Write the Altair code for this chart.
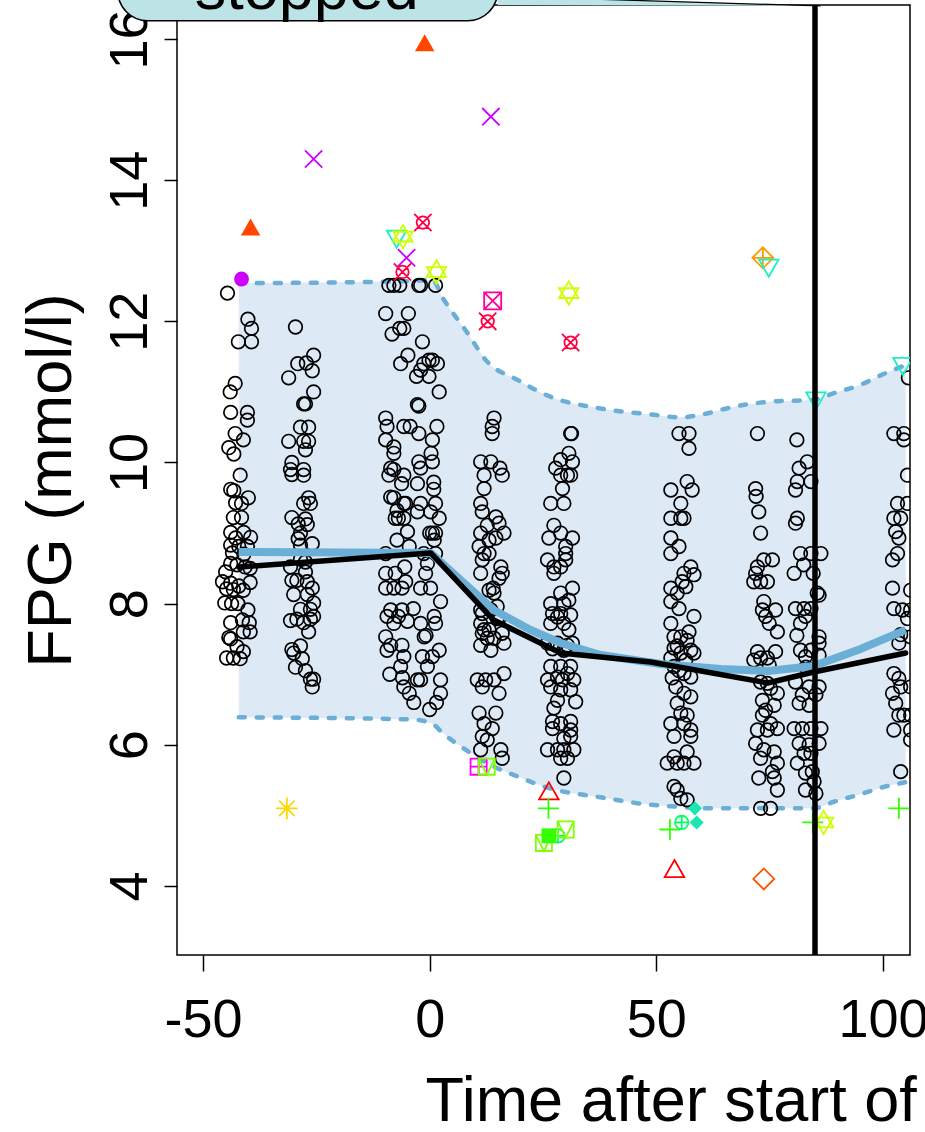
import altair as alt
import pandas as pd

FONT = "Liberation Sans"

# ---------------- data ----------------
# black open circles, one list per visit column: (time, FPG)
col1 = [(-44.6,12.40),(-40.1,12.03),(-39.3,11.90),(-42.2,11.71),(-39.3,11.71),(-42.9,11.12),(-44.0,11.00),
        (-43.9,10.71),(-40.2,10.71),(-40.2,10.60),(-42.9,10.41),(-41.1,10.32),(-44.3,10.21),(-43.2,10.12),
        (-41.8,9.82),(-43.9,9.62),(-43.2,9.60),(-40.0,9.50),(-42.8,9.43),(-41.5,9.42),(-43.3,9.22),(-41.5,9.22),
        (-43.9,9.01),(-41.0,9.01),(-39.5,8.94),(-42.8,8.93),(-43.9,8.83),(-42.1,8.81),(-40.2,8.81),(-43.5,8.72),
        (-41.0,8.70),(-43.9,8.57),(-42.5,8.55),(-40.7,8.52),(-39.6,8.50),(-45.0,8.45),(-45.7,8.31),(-43.9,8.29),
        (-42.1,8.25),(-39.6,8.30),(-44.8,8.21),(-43.3,8.20),(-41.1,8.19),(-45.2,8.01),(-43.7,8.00),(-42.3,8.00),
        (-40.1,7.91),(-41.3,7.77),(-39.8,7.73),(-43.9,7.73),(-41.1,7.60),(-39.6,7.60),(-44.3,7.52),(-43.9,7.50),
        (-42.5,7.39),(-41.1,7.32),(-44.8,7.23),(-43.3,7.23),(-41.8,7.22)]
col2 = [(-29.6,11.92),(-29.1,11.40),(-27.2,11.41),(-25.6,11.52),(-25.9,11.30),(-31.1,11.20),(-25.6,11.00),
        (-27.8,10.83),(-27.4,10.83),(-28.5,10.50),(-26.7,10.50),(-31.1,10.30),(-27.8,10.30),(-26.7,10.30),
        (-27.4,10.18),(-30.4,10.00),(-30.7,9.90),(-30.4,9.83),(-27.8,9.90),(-27.8,9.82),(-26.7,9.50),(-27.8,9.42),
        (-26.3,9.42),(-30.4,9.22),(-29.0,9.13),(-27.4,9.20),(-27.0,9.12),(-28.5,9.00),(-29.0,8.92),(-25.9,8.85),
        (-28.5,8.83),(-28.5,8.63),(-27.4,8.59),(-30.7,8.52),(-27.4,8.45),(-29.3,8.33),(-30.4,8.33),(-27.0,8.31),
        (-25.9,8.22),(-30.0,8.13),(-27.0,8.13),(-25.6,8.01),(-28.5,7.92),(-26.3,7.92),(-30.7,7.76),(-29.3,7.78),
        (-27.8,7.73),(-26.3,7.78),(-25.6,7.82),(-26.7,7.60),(-30.4,7.35),(-30.0,7.30),(-28.5,7.40),(-28.1,7.22),
        (-29.6,7.10),(-27.4,7.05),(-26.3,6.93),(-25.6,6.93),(-25.9,6.82)]
col3 = [(-9.0,12.51),(-7.9,12.51),(-6.6,12.51),(-2.4,12.51),(-2.0,12.51),(1.3,12.51),(-9.7,12.11),(-4.7,12.11),
        (-8.3,11.82),(-6.6,11.90),(-5.7,11.90),(-1.6,11.71),(-6.4,11.40),(-4.8,11.52),(-1.3,11.40),(-0.15,11.45),
        (0.6,11.45),(1.7,11.40),(-2.9,11.22),(-0.15,11.22),(-2.0,11.31),(2.1,11.00),(-2.7,10.82),(-2.4,10.80),
        (-9.7,10.63),(-9.4,10.51),(-5.7,10.51),(-4.3,10.51),(1.6,10.51),(-2.4,10.41),(0.6,10.32),(-9.7,10.32),
        (-7.9,10.22),(-7.9,10.13),(0.3,10.13),(-2.4,10.01),(0.6,10.01),(-2.0,9.92),(-8.6,9.92),(-7.9,9.90),
        (-9.0,9.82),(-5.7,9.82),(-2.7,9.70),(0.9,9.72),(0.9,9.62),(-6.2,9.70),(-8.6,9.51),(-7.9,9.50),(-5.7,9.42),
        (-5.3,9.42),(-2.0,9.42),(1.3,9.42),(0.2,9.30),(-2.7,9.30),(-7.2,9.32),(-6.9,9.21),(2.1,9.21),(-7.6,9.21),
        (-5.7,9.21),(1.3,9.00),(0.6,9.00),(0.0,9.00),(-4.9,9.02),(-7.2,8.90),(1.0,8.90),(-4.5,8.81),(-1.3,8.71),
        (1.3,8.71),(-9.7,8.71),(-0.5,8.57),(-5.5,8.52),(-9.7,8.43),(-7.6,8.43),(-0.9,8.43),(-7.9,8.22),(-6.1,8.22),
        (-9.7,8.22),(-2.0,8.22),(0.2,8.22),(-5.3,8.31),(-8.6,7.91),(-6.1,7.91),(-3.6,7.93),(2.4,8.03),(1.0,7.82),
        (-9.4,7.82),(-6.9,7.82),(-7.9,7.72),(-2.0,7.72),(1.3,7.72),(-4.9,7.75),(-9.7,7.53),(-1.2,7.53),(-0.8,7.55),
        (-8.6,7.41),(-6.1,7.41),(2.1,7.34),(0.6,7.25),(-9.4,7.34),(-5.7,7.25),(-6.4,7.11),(-1.6,7.25),(-0.5,7.11),
        (-2.0,6.92),(-2.7,6.92),(2.4,6.92),(-5.7,6.82),(-4.5,6.73),(2.4,6.73),(0.0,6.50),(-3.5,6.60),(1.5,6.60),
        (-6.0,6.95),(-8.8,7.00)]
col4 = [(14.2,10.63),(13.8,10.51),(13.8,10.41),(11.25,10.01),(13.5,10.01),(15.5,9.92),(16.0,9.82),(12.0,9.82),
        (12.0,9.63),(11.25,9.42),(11.6,9.30),(14.6,9.23),(15.3,9.14),(12.7,9.11),(11.25,9.00),(16.4,9.00),
        (14.6,8.93),(13.1,8.90),(10.9,8.81),(12.0,8.71),(13.1,8.71),(11.6,8.62),(15.7,8.52),(16.0,8.43),(15.3,8.36),
        (11.25,8.43),(14.0,8.22),(14.2,8.15),(13.1,8.19),(14.9,7.96),(11.25,7.91),(13.5,7.91),(11.25,7.72),
        (11.6,7.58),(12.7,7.51),(14.2,7.51),(16.0,7.58),(16.4,7.44),(11.25,7.41),(13.5,7.34),(10.5,6.92),
        (12.35,6.92),(14.2,6.92),(16.4,7.01),(15.3,6.73),(11.6,6.82),(10.9,6.45),(14.6,6.45),(12.0,6.30),
        (13.8,6.23),(11.6,6.12),(12.7,6.07),(11.25,5.93),(15.7,5.93),(16.0,5.81),(12.0,7.63),(13.1,7.63),
        (14.9,7.79),(11.6,7.86),(15.3,7.79)]
col5 = [(31.1,10.41),(31.3,10.41),(30.7,10.13),(28.9,10.04),(31.5,10.01),(27.8,9.92),(28.9,9.82),(30.4,9.82),
        (31.1,9.82),(29.3,9.63),(26.7,9.42),(29.6,9.42),(27.4,9.11),(28.9,9.00),(26.3,8.93),(31.5,8.93),(30.0,8.81),
        (30.0,8.71),(26.0,8.62),(27.4,8.52),(28.9,8.52),(30.0,8.62),(27.4,8.43),(31.5,8.22),(30.7,8.05),(28.9,8.15),
        (29.6,8.00),(26.7,8.00),(27.1,7.86),(28.9,7.86),(28.2,7.81),(26.7,7.72),(29.6,7.72),(31.1,7.84),(30.7,7.63),
        (26.0,7.44),(28.2,7.44),(27.1,7.36),(29.6,7.34),(30.4,7.41),(31.5,7.44),(26.7,7.11),(28.9,7.11),(31.1,7.11),
        (30.4,7.01),(28.2,6.96),(26.0,6.92),(29.3,6.92),(31.8,6.92),(26.7,6.82),(28.9,6.78),(31.1,6.78),(32.2,6.61),
        (28.2,6.63),(27.4,6.52),(27.1,6.33),(28.9,6.30),(31.1,6.33),(27.1,6.23),(31.1,6.21),(31.1,6.12),(29.6,6.09),
        (26.0,5.93),(28.2,5.93),(29.6,5.93),(31.8,5.93),(28.9,5.81),(30.4,5.81),(29.6,5.53)]
col6 = [(55.0,10.41),(57.2,10.41),(57.2,10.20),(53.2,9.61),(56.8,9.73),(57.9,9.61),(55.4,9.42),(53.2,9.21),
        (55.4,9.21),(56.1,9.21),(53.2,8.93),(55.0,8.81),(53.2,8.71),(57.6,8.52),(56.1,8.43),(58.3,8.41),(55.7,8.31),
        (56.5,8.24),(53.2,8.22),(54.6,8.15),(53.2,8.03),(55.0,7.93),(58.3,7.82),(53.2,7.72),(53.9,7.53),(55.4,7.53),
        (56.8,7.48),(53.9,7.37),(57.6,7.34),(55.4,7.30),(53.2,7.23),(58.3,7.30),(53.9,7.11),(56.1,7.01),(57.6,6.96),
        (54.3,6.82),(56.1,6.73),(57.6,6.68),(54.6,6.59),(55.4,6.45),(56.8,6.42),(56.1,6.30),(53.2,6.30),(57.6,6.21),
        (53.9,6.12),(57.6,6.12),(56.8,5.90),(53.9,5.83),(52.4,5.74),(54.6,5.74),(56.1,5.74),(58.3,5.74),(53.9,5.41),
        (54.6,5.36),(55.4,5.24),(56.8,5.22),(54.6,7.40),(56.5,7.20),(55.0,7.05),(57.2,7.60),(53.5,6.95)]
col7 = [(72.3,10.41),(71.9,9.63),(72.0,9.52),(72.6,9.30),(73.0,9.00),(73.7,8.62),(75.6,8.62),(72.3,8.52),
        (71.9,8.43),(71.5,8.31),(73.0,8.31),(74.5,8.31),(73.7,8.03),(73.4,7.91),(74.1,7.82),(76.3,7.91),(74.9,7.72),
        (76.7,7.60),(72.3,7.32),(73.0,7.23),(74.5,7.23),(76.3,7.32),(74.9,7.13),(71.5,7.20),(73.0,6.89),(74.5,6.87),
        (75.2,6.80),(76.7,6.73),(73.4,6.63),(74.1,6.49),(76.0,6.56),(73.4,6.42),(75.2,6.30),(76.7,6.23),(72.3,6.21),
        (74.5,6.21),(71.9,6.02),(73.7,5.93),(76.0,5.90),(73.0,5.81),(76.7,5.74),(75.6,5.62),(76.0,5.53),(72.6,5.53),
        (76.7,5.36),(73.0,5.10),(75.2,5.10)]
col8 = [(81.0,10.32),(83.3,10.01),(81.5,9.92),(81.1,9.73),(84.1,9.73),(80.7,9.61),(81.1,9.21),(80.7,9.14),
        (81.8,8.71),(84.1,8.71),(86.3,8.71),(84.6,8.43),(85.5,8.15),(85.9,8.12),(80.7,7.93),(82.6,7.93),(84.1,7.93),
        (82.9,7.82),(81.8,7.72),(85.9,7.53),(85.9,7.44),(81.8,7.34),(84.1,7.34),(82.9,7.25),(85.9,7.27),(80.7,6.89),
        (83.7,6.82),(82.2,6.71),(85.2,6.71),(85.9,6.82),(81.5,6.59),(83.7,6.56),(80.4,6.23),(82.2,6.23),(84.1,6.23),
        (86.3,6.23),(81.5,6.02),(83.7,6.00),(85.9,6.02),(82.6,5.88),(84.1,5.88),(81.1,5.74),(84.4,5.62),(82.9,5.60),
        (84.8,5.48),(82.9,5.36),(85.2,5.31),(80.4,8.43),(82.5,8.55),(81.0,7.55),(83.0,7.10)]
col9 = [(105.6,11.20),(102.4,10.41),(104.6,10.41),(104.6,10.32),(105.4,9.82),(103.2,9.42),(105.4,9.42),
        (102.4,9.21),(103.9,9.21),(102.8,9.02),(103.5,8.93),(103.2,8.71),(102.1,8.62),(102.1,8.22),(106.1,8.19),
        (102.4,7.93),(104.3,7.91),(106.1,7.91),(105.4,7.79),(103.9,7.56),(106.1,7.53),(103.5,7.44),(102.4,7.01),
        (103.5,6.94),(103.9,6.82),(106.1,6.82),(102.1,6.73),(102.8,6.59),(103.5,6.42),(104.6,6.42),(106.1,6.42),
        (102.4,6.21),(106.1,6.21),(106.1,6.07),(103.9,5.62)]

# coloured subjects outside the band
sym_t = [-1.1, -39.5, -41.5, -25.6, 13.5, -5.1, -1.5, -6.0, 12.8, 31.1, 13.9, -7.3, -5.9, 1.5, 30.7,
         73.5, 74.8, 85.2, 104.4, -31.5, 10.8, 12.6, 26.3, 26.2, 25.2, 26.3, 28.3, 30.0, 53.0, 55.6,
         58.5, 58.9, 54.0, 73.7, 84.5, 86.9, 103.5]
sym_y = [15.93, 13.32, 12.60, 14.30, 14.90, 12.90, 13.40, 12.70, 12.00, 11.70, 12.29, 13.18, 13.20, 12.70, 12.40,
         12.90, 12.77, 10.89, 11.38, 5.10, 5.69, 5.69, 5.33, 5.10, 4.61, 4.71, 4.71, 4.80, 4.80, 4.90,
         5.10, 4.90, 4.23, 4.10, 4.90, 4.90, 5.10]
sym_pch = [17, 17, 16, 4, 4, 4, 13, 13, 13, 13, 7, 6, 11, 11, 11,
           9, 6, 6, 6, 8, 12, 14, 2, 3, 14, 15, 10, 14, 3, 10,
           18, 18, 2, 5, 3, 11, 3]
sym_col = ["#FF4500", "#FF4500", "#CC00FF", "#CC00FF", "#CC00FF", "#CC00FF", "#FF0044", "#FF0044", "#FF0044",
           "#FF0044", "#FF0099", "#1AF0C4", "#CCFF00", "#CCFF00", "#CCFF00", "#FF9900", "#1AF0C4", "#1AF0C4",
           "#1AF0C4", "#FFD700", "#FF00FF", "#80FF00", "#FF0000", "#33FF00", "#80FF00", "#33FF00", "#00FF66",
           "#80FF00", "#33FF00", "#00FF66", "#19E6B0", "#19E6B0", "#FF0000", "#FF5500", "#33FF00", "#CCFF00",
           "#33FF00"]

# reference band (dashed limits)
band_t = [-42.1, -4.0, 0.5, 3.0, 8.4, 12.4, 19.4, 26.7, 37.3, 48.8, 55.4, 60.0, 67.1, 74.6, 84.7, 89.0, 95.0, 100.0, 105.0]
band_lo = [6.39, 6.36, 6.30, 6.16, 5.91, 5.75, 5.55, 5.38, 5.26, 5.15, 5.12, 5.10, 5.10, 5.10, 5.10, 5.19, 5.30, 5.40, 5.47]
band_hi = [12.54, 12.57, 12.59, 12.32, 11.83, 11.45, 11.17, 10.93, 10.77, 10.68, 10.64, 10.68, 10.79, 10.86, 10.89, 10.98, 11.10, 11.25, 11.38]

# smooth (blue) and observed mean (black) curves
blue_t = [-42.13, 0.22, 14.12, 22.28, 28.90, 37.72, 50.96, 64.19, 74.56, 84.71, 95.07, 105.0]
blue_y = [8.732, 8.718, 7.910, 7.627, 7.443, 7.273, 7.146, 7.075, 7.047, 7.118, 7.359, 7.628]
mean_t = [-42.13, 0.22, 14.12, 28.90, 48.75, 74.56, 84.71, 105.0]
mean_y = [8.519, 8.718, 7.768, 7.301, 7.174, 6.876, 7.032, 7.301]

stop_t = [85.0]

# callout annotation
bubble = {"x": [-68.8], "x2": [15.0], "y": [17.7], "y2": [16.259], "label": ["stopped"], "lx": [-27.1], "ly": [16.425]}
pointer = {"x": [15.0, 86.25], "top": [16.606, 16.468], "bot": [16.482, 16.468]}

# ---------------- styles ----------------
X_MIN, X_MAX = -55.735, 105.956
Y_MIN, Y_MAX = 3.022, 16.482
xs = alt.Scale(domain=[X_MIN, X_MAX], nice=False, zero=False)
ys = alt.Scale(domain=[Y_MIN, Y_MAX], nice=False, zero=False)

XAXIS = alt.Axis(values=[-50, 0, 50, 100], labelExpr="'' + datum.value", tickSize=16, tickWidth=1.5,
                 tickColor="black", domain=False, grid=False, labelFontSize=54, labelFont=FONT,
                 labelColor="black", labelPadding=22, labelFlush=False, labelOverlap=False,
                 title="Time after start of treatment (weeks)", titleFont=FONT, titleFontSize=63,
                 titleFontWeight="normal", titleColor="black", titleX=248, titleY=165,
                 titleAlign="left", titleBaseline="alphabetic", titleAngle=0)
YAXIS = alt.Axis(values=[4, 6, 8, 10, 12, 14, 16], tickSize=13, tickWidth=1.5, tickColor="black",
                 domain=False, grid=False, labelAngle=270, labelAlign="center", labelBaseline="alphabetic",
                 labelPadding=18, labelFontSize=54, labelFont=FONT, labelColor="black",
                 labelFlush=False, labelOverlap=False,
                 title="FPG (mmol/l)", titleFont=FONT, titleFontSize=63, titleFontWeight="normal",
                 titleColor="black", titleX=-107, titleY=475, titleAngle=270, titleAlign="center",
                 titleBaseline="alphabetic")


def X(f):
    return alt.X(f"{f}:Q", scale=xs, axis=XAXIS)


def Y(f):
    return alt.Y(f"{f}:Q", scale=ys, axis=YAXIS)


PATH = {
    2: "M0,-1L1,0.75L-1,0.75Z",
    3: "M-1,0L1,0M0,-1L0,1",
    4: "M-1,-1L1,1M-1,1L1,-1",
    5: "M0,-1L1,0L0,1L-1,0Z",
    6: "M0,1L1,-0.75L-1,-0.75Z",
    7: "M-1,-1L1,-1L1,1L-1,1Z M-1,-1L1,1M-1,1L1,-1",
    8: "M-1,0L1,0M0,-1L0,1M-0.72,-0.72L0.72,0.72M-0.72,0.72L0.72,-0.72",
    9: "M0,-1L1,0L0,1L-1,0Z M-1,0L1,0M0,-1L0,1",
    10: "M1,0A1,1,0,1,1,-1,0A1,1,0,1,1,1,0Z M-1,0L1,0M0,-1L0,1",
    11: "M0,-1.2L1,0.5L-1,0.5Z M0,1.2L1,-0.5L-1,-0.5Z",
    12: "M-1,-1L1,-1L1,1L-1,1Z M-1,0L1,0M0,-1L0,1",
    13: "M0.72,0A0.72,0.72,0,1,1,-0.72,0A0.72,0.72,0,1,1,0.72,0Z M-1,-1L1,1M-1,1L1,-1",
    14: "M-1,-1L1,-1L1,1L-1,1Z M-1,-1L0,1L1,-1",
    15: "M-1,-1L1,-1L1,1L-1,1Z",
    16: "circle",
    17: "M0,-1L1,0.75L-1,0.75Z",
    18: "M0,-1L1,0L0,1L-1,0Z",
}
SIZE = {2: 380, 3: 440, 4: 300, 5: 440, 6: 380, 7: 290, 8: 470, 9: 440, 10: 180, 11: 380, 12: 260,
        13: 300, 14: 260, 15: 220, 16: 220, 17: 380, 18: 200}
FILLED = {15, 16, 17, 18}

# ---------------- tables ----------------
pts = pd.DataFrame(col1 + col2 + col3 + col4 + col5 + col6 + col7 + col8 + col9, columns=["t", "y"])
sym = pd.DataFrame({"t": sym_t, "y": sym_y, "pch": sym_pch, "col": sym_col})
sym["path"] = sym["pch"].map(PATH)
sym["sz"] = sym["pch"].map(SIZE)
sym["filled"] = sym["pch"].isin(FILLED)
band = pd.DataFrame({"t": band_t, "lo": band_lo, "hi": band_hi})
blue = pd.DataFrame({"t": blue_t, "y": blue_y})
mean = pd.DataFrame({"t": mean_t, "y": mean_y})
stop = pd.DataFrame({"t": stop_t})
bub = pd.DataFrame(bubble)
ptr = pd.DataFrame(pointer)

BAND_FILL = "#DDE9F5"
BLUE = "#6BAED6"
CALLOUT = "#BCE3E6"

# ---------------- layers ----------------
area = alt.Chart(band).mark_area(color=BAND_FILL, interpolate="monotone", clip=True).encode(
    x=X("t"), y=Y("lo"), y2=alt.Y2("hi"))
dash_lo = alt.Chart(band).mark_line(color=BLUE, strokeWidth=4.5, strokeDash=[6, 12], strokeCap="round",
                                    interpolate="monotone", clip=True).encode(x=X("t"), y=Y("lo"))
dash_hi = alt.Chart(band).mark_line(color=BLUE, strokeWidth=4.5, strokeDash=[6, 12], strokeCap="round",
                                    interpolate="monotone", clip=True).encode(x=X("t"), y=Y("hi"))
circles = alt.Chart(pts).mark_point(shape="circle", filled=False, color="black", size=185,
                                    strokeWidth=1.7, opacity=1, clip=True).encode(x=X("t"), y=Y("y"))
blue_line = alt.Chart(blue).mark_line(color=BLUE, strokeWidth=8, strokeCap="butt", strokeJoin="round",
                                      clip=True).encode(x=X("t"), y=Y("y"))
mean_line = alt.Chart(mean).mark_line(color="black", strokeWidth=5.5, strokeCap="round", strokeJoin="round",
                                      clip=True).encode(x=X("t"), y=Y("y"))
open_sym = alt.Chart(sym).transform_filter("!datum.filled").mark_point(
    filled=False, strokeWidth=1.8, opacity=1, clip=True).encode(
    x=X("t"), y=Y("y"), shape=alt.Shape("path:N", scale=None), size=alt.Size("sz:Q", scale=None),
    color=alt.Color("col:N", scale=None))
fill_sym = alt.Chart(sym).transform_filter("datum.filled").mark_point(
    filled=True, strokeWidth=0, opacity=1, clip=True).encode(
    x=X("t"), y=Y("y"), shape=alt.Shape("path:N", scale=None), size=alt.Size("sz:Q", scale=None),
    color=alt.Color("col:N", scale=None))
vline = alt.Chart(stop).mark_rule(color="black", strokeWidth=5.5).encode(x=X("t"))

ptr_area = alt.Chart(ptr).mark_area(color=CALLOUT, clip=False).encode(x=X("x"), y=Y("top"), y2=alt.Y2("bot"))
ptr_edge = alt.Chart(ptr).mark_line(color="black", strokeWidth=1.2, clip=False).encode(x=X("x"), y=Y("top"))
bub_rect = alt.Chart(bub).mark_rect(fill=CALLOUT, stroke="black", strokeWidth=1.5, cornerRadius=30,
                                   clip=False).encode(x=X("x"), x2=alt.X2("x2"), y=Y("y"), y2=alt.Y2("y2"))
bub_text = alt.Chart(bub).mark_text(font=FONT, fontSize=63, align="center", baseline="alphabetic",
                                    color="black", clip=False).encode(x=X("lx"), y=Y("ly"), text="label:N")

chart = alt.layer(area, dash_lo, dash_hi, circles, blue_line, mean_line, open_sym, fill_sym, vline,
                  ptr_area, ptr_edge, bub_rect, bub_text).properties(
    width=733, height=950,
    autosize=alt.AutoSizeParams(type="none"),
    padding={"left": 177, "top": 5, "right": 15, "bottom": 177},
    background="white",
).configure_view(stroke="black", strokeWidth=1.5)

chart.save("out.html", embed_options={"renderer": "svg", "actions": False})
